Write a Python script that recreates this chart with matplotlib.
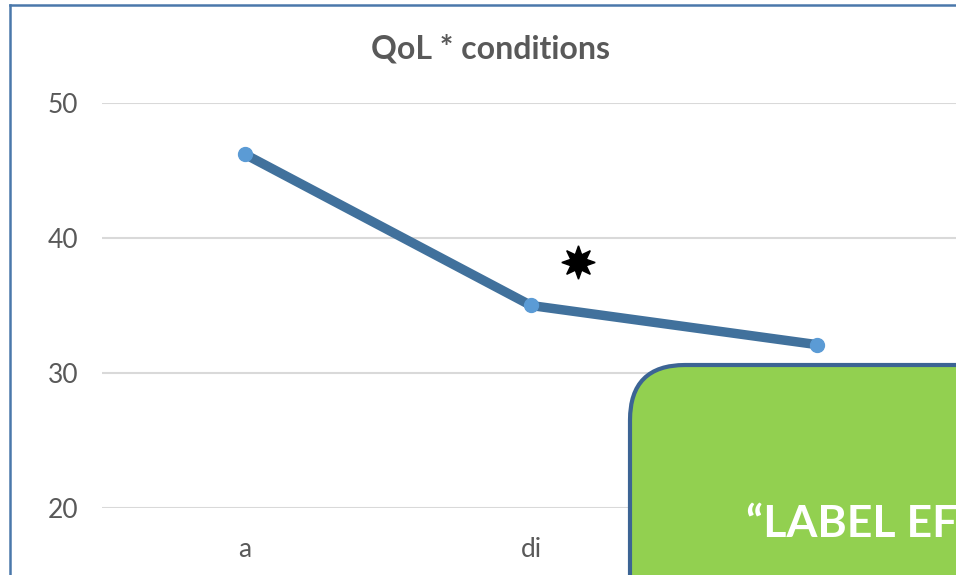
import numpy as np
import matplotlib.pyplot as plt
from matplotlib.patches import FancyBboxPatch
from matplotlib.lines import Line2D

plt.rcParams['font.family'] = ['Lato', 'DejaVu Sans']

# third category label is hidden behind the callout box
categories = ['a', 'di', '']
qol = [46.2, 35.0, 32.1]
yticks = [20, 30, 40, 50]
star_pos = (1.165, 38.2)
title = 'QoL * conditions'
box_text = '\u201cLABEL EFFECT\u201d'

grey = '#595959'

fig = plt.figure(figsize=(9.56, 5.75), dpi=100)
ax = fig.add_axes([102/956, 67/575, 1 - 102/956, 405/575])

x = np.arange(len(categories))
ax.plot(x, qol, color='#41719c', linewidth=6.8, solid_capstyle='round', zorder=3)
ax.plot(x, qol, 'o', color='#5b9bd5', markersize=10, zorder=4)
ax.plot(*star_pos, marker=(8, 1, 0), color='black', markersize=24, zorder=4)

ax.set_xlim(-0.5, (956 - 245) / 286)
ax.set_ylim(20, 50)
ax.set_yticks(yticks)
ax.set_xticks(x)
ax.set_xticklabels(categories)
ax.grid(axis='y', color='#d9d9d9', linewidth=1.5)
ax.set_axisbelow(True)
for s in ax.spines.values():
    s.set_visible(False)
ax.tick_params(length=0, labelsize=19, labelcolor=grey)
ax.tick_params(axis='y', pad=17)
ax.tick_params(axis='x', pad=21)

fig.text(491/956, 1 - 49/575, title, ha='center', va='center', fontsize=23,
         fontweight='bold', color=grey)

# slide frame
fig.add_artist(Line2D([10/956, 10/956], [0, 1 - 5/575], color='#4a78ab', linewidth=1.8))
fig.add_artist(Line2D([10/956, 1], [1 - 5/575, 1 - 5/575], color='#4a78ab', linewidth=1.8))

# callout box
box = FancyBboxPatch((6.30, -1.5), 5.0, 3.6, boxstyle='round,pad=0,rounding_size=0.55',
                     transform=fig.dpi_scale_trans, facecolor='#92d050', edgecolor='#3c6494',
                     linewidth=3, zorder=10)
fig.add_artist(box)
fig.text(7.46, (575 - 537) / 100, box_text, transform=fig.dpi_scale_trans, ha='left',
         va='baseline', fontsize=32, fontweight='bold', color='white', zorder=11)

plt.savefig('out.png', dpi=100)
